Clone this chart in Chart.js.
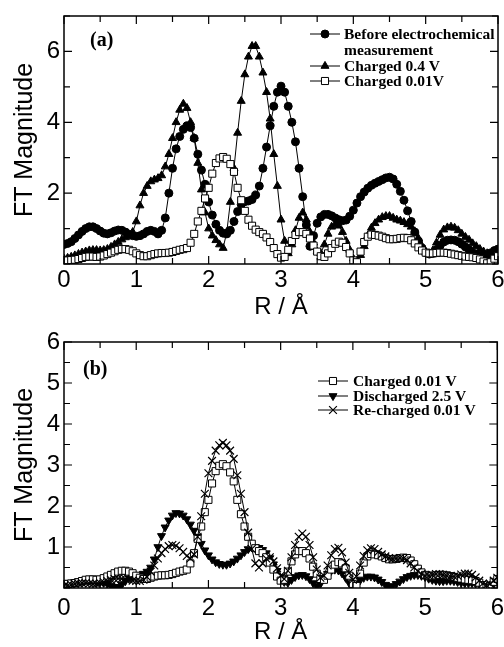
<!DOCTYPE html>
<html>
<head>
<meta charset="utf-8">
<script src="https://cdn.jsdelivr.net/npm/chart.js@4.4.1/dist/chart.umd.min.js"></script>
<style>
  body { margin: 0; background: #fff; width: 504px; height: 647px; overflow: hidden; }
  canvas { position: absolute; left: 0; }
  #chartA { top: 0; }
  #chartB { top: 322px; }
</style>
</head>
<body>
<canvas id="chartA" width="504" height="322"></canvas>
<canvas id="chartB" width="504" height="325"></canvas>
<script>
// R grid (Å), step 0.05
const R = [
  0, 0.05, 0.1, 0.15, 0.2, 0.25, 0.3, 0.35, 0.4, 0.45,
  0.5, 0.55, 0.6, 0.65, 0.7, 0.75, 0.8, 0.85, 0.9, 0.95,
  1, 1.05, 1.1, 1.15, 1.2, 1.25, 1.3, 1.35, 1.4, 1.45,
  1.5, 1.55, 1.6, 1.65, 1.7, 1.75, 1.8, 1.85, 1.9, 1.95,
  2, 2.05, 2.1, 2.15, 2.2, 2.25, 2.3, 2.35, 2.4, 2.45,
  2.5, 2.55, 2.6, 2.65, 2.7, 2.75, 2.8, 2.85, 2.9, 2.95,
  3, 3.05, 3.1, 3.15, 3.2, 3.25, 3.3, 3.35, 3.4, 3.45,
  3.5, 3.55, 3.6, 3.65, 3.7, 3.75, 3.8, 3.85, 3.9, 3.95,
  4, 4.05, 4.1, 4.15, 4.2, 4.25, 4.3, 4.35, 4.4, 4.45,
  4.5, 4.55, 4.6, 4.65, 4.7, 4.75, 4.8, 4.85, 4.9, 4.95,
  5, 5.05, 5.1, 5.15, 5.2, 5.25, 5.3, 5.35, 5.4, 5.45,
  5.5, 5.55, 5.6, 5.65, 5.7, 5.75, 5.8, 5.85, 5.9, 5.95,
  6
];

// panel (a)
const beforeMeas = [
  0.55, 0.58, 0.63, 0.72, 0.82, 0.92, 1.00, 1.05, 1.05, 1.00,
  0.93, 0.87, 0.85, 0.88, 0.93, 0.96, 0.95, 0.90, 0.84, 0.80,
  0.78, 0.80, 0.85, 0.92, 0.95, 0.92, 0.85, 0.95, 1.30, 2.00,
  2.70, 3.25, 3.60, 3.80, 3.90, 3.85, 3.55, 3.10, 2.65, 2.25,
  1.75, 1.38, 1.12, 0.95, 0.87, 0.85, 0.95, 1.20, 1.48, 1.68,
  1.76, 1.78, 1.82, 1.95, 2.20, 2.70, 3.30, 3.90, 4.45, 4.85,
  5.02, 4.85, 4.45, 4.00, 3.45, 2.70, 1.90, 1.10, 0.50, 0.80,
  1.15, 1.33, 1.40, 1.40, 1.36, 1.30, 1.25, 1.22, 1.24, 1.35,
  1.52, 1.72, 1.90, 2.03, 2.14, 2.22, 2.28, 2.33, 2.38, 2.43,
  2.45, 2.40, 2.25, 2.05, 1.80, 1.50, 1.20, 0.90, 0.65, 0.45,
  0.32, 0.28, 0.30, 0.40, 0.52, 0.62, 0.67, 0.68, 0.67, 0.63,
  0.56, 0.48, 0.40, 0.32, 0.26, 0.23, 0.23, 0.26, 0.31, 0.38,
  0.42
];
const charged04 = [
  0.15, 0.17, 0.20, 0.24, 0.28, 0.32, 0.35, 0.38, 0.39, 0.39,
  0.38, 0.39, 0.42, 0.48, 0.55, 0.62, 0.69, 0.75, 0.80, 0.90,
  1.20, 1.65, 2.00, 2.20, 2.33, 2.38, 2.42, 2.50, 2.75, 3.10,
  3.55, 4.00, 4.35, 4.52, 4.40, 4.00, 3.55, 2.85, 2.10, 1.45,
  1.00, 0.80, 0.67, 0.55, 0.45, 0.90, 1.75, 2.70, 3.70, 4.60,
  5.35, 5.85, 6.15, 6.15, 5.85, 5.40, 4.85, 4.10, 3.10, 2.20,
  1.25, 0.65, 0.30, 0.55, 0.95, 1.30, 1.45, 1.25, 0.90, 0.60,
  0.35, 0.30, 0.55, 0.85, 1.05, 1.12, 1.08, 0.90, 0.65, 0.40,
  0.15, 0.08, 0.25, 0.50, 0.80, 1.02, 1.15, 1.25, 1.32, 1.35,
  1.35, 1.30, 1.25, 1.22, 1.18, 1.12, 1.05, 0.92, 0.72, 0.50,
  0.35, 0.30, 0.38, 0.60, 0.82, 0.97, 1.03, 1.05, 1.02, 0.95,
  0.85, 0.76, 0.68, 0.58, 0.50, 0.42, 0.35, 0.30, 0.28, 0.30,
  0.32
];
// same sample shown in both panels
const charged001 = [
  0.10, 0.10, 0.11, 0.12, 0.14, 0.17, 0.20, 0.21, 0.21, 0.20,
  0.21, 0.24, 0.28, 0.32, 0.36, 0.40, 0.42, 0.42, 0.40, 0.36,
  0.30, 0.25, 0.22, 0.22, 0.25, 0.28, 0.30, 0.31, 0.31, 0.32,
  0.34, 0.37, 0.40, 0.42, 0.45, 0.60, 0.85, 1.20, 1.50, 1.85,
  2.15, 2.55, 2.85, 2.98, 3.02, 2.97, 2.82, 2.60, 2.15, 1.80,
  1.50, 1.25, 1.08, 0.97, 0.90, 0.85, 0.75, 0.62, 0.45, 0.28,
  0.18, 0.20, 0.40, 0.65, 0.82, 0.90, 0.90, 0.85, 0.72, 0.52,
  0.35, 0.22, 0.20, 0.30, 0.45, 0.57, 0.63, 0.60, 0.48, 0.30,
  0.10, 0.05, 0.35, 0.62, 0.77, 0.83, 0.82, 0.80, 0.77, 0.73,
  0.70, 0.70, 0.71, 0.73, 0.74, 0.73, 0.67, 0.58, 0.47, 0.38,
  0.32, 0.30, 0.30, 0.31, 0.32, 0.32, 0.31, 0.29, 0.27, 0.25,
  0.23, 0.21, 0.20, 0.19, 0.17, 0.13, 0.07, 0.02, 0.05, 0.15,
  0.22
];

// panel (b)
const discharged25 = [
  0.08, 0.10, 0.13, 0.15, 0.17, 0.18, 0.19, 0.18, 0.17, 0.16,
  0.15, 0.13, 0.10, 0.06, 0.03, 0.02, 0.08, 0.17, 0.24, 0.28,
  0.30, 0.32, 0.35, 0.40, 0.50, 0.70, 1.00, 1.27, 1.48, 1.65,
  1.77, 1.83, 1.82, 1.77, 1.68, 1.55, 1.40, 1.25, 1.08, 0.92,
  0.80, 0.70, 0.63, 0.59, 0.57, 0.57, 0.60, 0.65, 0.72, 0.80,
  0.88, 0.95, 0.99, 1.00, 0.98, 0.93, 0.85, 0.73, 0.58, 0.42,
  0.27, 0.15, 0.13, 0.20, 0.27, 0.31, 0.32, 0.29, 0.22, 0.12,
  0.04, 0.10, 0.24, 0.35, 0.42, 0.45, 0.43, 0.36, 0.25, 0.12,
  0.03, 0.10, 0.19, 0.25, 0.28, 0.28, 0.26, 0.21, 0.15, 0.08,
  0.03, 0.05, 0.10, 0.16, 0.22, 0.27, 0.30, 0.32, 0.32, 0.30,
  0.27, 0.23, 0.20, 0.18, 0.17, 0.17, 0.18, 0.18, 0.17, 0.15,
  0.13, 0.12, 0.12, 0.12, 0.11, 0.10, 0.08, 0.06, 0.06, 0.10,
  0.15
];
const recharged001 = [
  0.05, 0.06, 0.08, 0.10, 0.11, 0.12, 0.12, 0.11, 0.10, 0.10,
  0.12, 0.14, 0.17, 0.20, 0.22, 0.23, 0.23, 0.22, 0.20, 0.18,
  0.17, 0.17, 0.20, 0.27, 0.40, 0.55, 0.72, 0.85, 0.95, 1.02,
  1.05, 1.03, 0.97, 0.88, 0.78, 0.72, 0.82, 1.25, 1.75, 2.30,
  2.80, 3.10, 3.35, 3.48, 3.54, 3.48, 3.35, 3.15, 2.75, 2.30,
  1.85, 1.35, 0.95, 0.60, 0.50, 0.60, 0.72, 0.75, 0.65, 0.48,
  0.30, 0.22, 0.42, 0.75, 1.05, 1.25, 1.33, 1.25, 1.05, 0.75,
  0.45, 0.25, 0.30, 0.55, 0.80, 0.95, 0.98, 0.87, 0.62, 0.37,
  0.20, 0.28, 0.55, 0.78, 0.92, 0.97, 0.95, 0.88, 0.82, 0.77,
  0.73, 0.71, 0.72, 0.73, 0.72, 0.68, 0.60, 0.50, 0.41, 0.34,
  0.30, 0.30, 0.32, 0.34, 0.34, 0.32, 0.30, 0.28, 0.28, 0.30,
  0.33, 0.35, 0.35, 0.32, 0.26, 0.18, 0.11, 0.07, 0.10, 0.18,
  0.25
];

const SANS = '"Liberation Sans", Arial, sans-serif';
const SERIF = '"Liberation Serif", "Times New Roman", serif';
Chart.defaults.font.family = SANS;
Chart.defaults.color = '#000';

function series(label, values, style, extra) {
  return Object.assign({
    label,
    data: R.map((r, i) => ({ x: r, y: values[i] })),
    borderColor: '#000',
    borderWidth: 1,
    pointStyle: style,
    pointRadius: 4,
    pointBorderColor: '#000',
    pointBackgroundColor: '#000',
    pointBorderWidth: 1,
    pointHoverRadius: 0,
    tension: 0
  }, extra);
}

// frame box and inward ticks on all four sides
const frameTicks = {
  id: 'frameTicks',
  afterDraw(chart) {
    const { ctx, chartArea: a, scales: { x, y } } = chart;
    ctx.save();
    ctx.strokeStyle = '#000';
    ctx.lineWidth = 1.5;
    ctx.strokeRect(a.left, a.top, a.right - a.left, a.bottom - a.top);
    ctx.lineWidth = 1.2;
    ctx.beginPath();
    x.ticks.forEach(t => {
      const px = x.getPixelForValue(t.value);
      const len = t.label !== '' ? 8 : 6;
      ctx.moveTo(px, a.bottom); ctx.lineTo(px, a.bottom - len);
      ctx.moveTo(px, a.top); ctx.lineTo(px, a.top + len);
    });
    y.ticks.forEach(t => {
      const py = y.getPixelForValue(t.value);
      const len = t.label !== '' ? 8 : 6;
      ctx.moveTo(a.left, py); ctx.lineTo(a.left + len, py);
      ctx.moveTo(a.right, py); ctx.lineTo(a.right - len, py);
    });
    ctx.stroke();
    ctx.restore();
  }
};

// panel tag and line+marker legend
const panelLegend = {
  id: 'panelLegend',
  afterDraw(chart, args, opts) {
    const ctx = chart.ctx;
    ctx.save();
    ctx.fillStyle = '#000';
    ctx.textBaseline = 'middle';
    ctx.font = 'bold 20px ' + SERIF;
    ctx.fillText(opts.tag, opts.tagX, opts.tagY);
    ctx.font = 'bold 15.5px ' + SERIF;
    opts.rows.forEach(row => {
      const ds = chart.data.datasets[row.ds];
      ctx.strokeStyle = '#000';
      ctx.lineWidth = 1;
      ctx.beginPath();
      ctx.moveTo(opts.x0, row.y);
      ctx.lineTo(opts.x1, row.y);
      ctx.stroke();
      ctx.fillStyle = ds.pointBackgroundColor;
      ctx.strokeStyle = ds.pointBorderColor;
      ctx.lineWidth = ds.pointBorderWidth;
      Chart.helpers.drawPoint(ctx, {
        pointStyle: ds.pointStyle,
        rotation: ds.pointRotation || 0,
        radius: ds.pointRadius,
        borderWidth: ds.pointBorderWidth
      }, (opts.x0 + opts.x1) / 2, row.y);
      ctx.fillStyle = '#000';
      ds.label.split('\n').forEach((line, k) => {
        ctx.fillText(line, opts.textX, row.y + 1 + k * opts.lineGap);
      });
    });
    ctx.restore();
  }
};

function makeChart(id, datasets, cfg) {
  return new Chart(document.getElementById(id), {
    type: 'line',
    data: { datasets },
    options: {
      responsive: false,
      animation: false,
      events: [],
      layout: { padding: { left: 0, right: 5, top: cfg.top, bottom: 0 } },
      plugins: {
        legend: { display: false },
        tooltip: { enabled: false },
        panelLegend: cfg.legend
      },
      scales: {
        x: {
          type: 'linear', min: 0, max: 6,
          grid: { display: false, drawTicks: false },
          border: { display: false },
          ticks: {
            stepSize: 0.5, autoSkip: false, maxRotation: 0, padding: cfg.xPad,
            font: { size: 24 }, color: '#000',
            callback: v => Number.isInteger(v) ? String(v) : ''
          },
          title: { display: true, text: 'R / Å', font: { size: 24 }, color: '#000', padding: { top: 0, bottom: 0 } },
          afterFit: s => { s.height = cfg.xH; s.paddingLeft = 0; s.paddingRight = 0; }
        },
        y: {
          type: 'linear', min: 0, max: cfg.yMax,
          grid: { display: false, drawTicks: false },
          border: { display: false },
          ticks: {
            stepSize: cfg.yStep, autoSkip: false, padding: 4,
            font: { size: 24 }, color: '#000',
            callback: cfg.yLabel
          },
          title: { display: true, text: 'FT Magnitude', font: { size: 25 }, color: '#000', padding: { top: 10, bottom: 0 } },
          afterFit: s => { s.width = 64; s.paddingTop = 0; s.paddingBottom = 0; }
        }
      }
    },
    plugins: [frameTicks, panelLegend]
  });
}

const namesA = ['Before electrochemical\nmeasurement', 'Charged 0.4 V', 'Charged 0.01V'];
const namesB = ['Charged 0.01 V', 'Discharged 2.5 V', 'Re-charged 0.01 V'];

makeChart('chartA', [
  series(namesA[0], beforeMeas, 'circle', { order: 1 }),
  series(namesA[1], charged04, 'triangle', { pointRadius: 4.6, order: 2 }),
  series(namesA[2], charged001, 'rect', { pointRadius: 5, pointBackgroundColor: '#fff', order: 0 })
], {
  top: 16, xH: 58, xPad: 2, yMax: 7, yStep: 1,
  yLabel: v => (v > 0 && v % 2 === 0) ? String(v) : '',
  legend: {
    tag: '(a)', tagX: 90, tagY: 41,
    x0: 310, x1: 340, textX: 344, lineGap: 16,
    rows: [{ ds: 0, y: 34 }, { ds: 1, y: 66 }, { ds: 2, y: 81 }]
  }
});

makeChart('chartB', [
  series(namesB[0], charged001, 'rect', { pointRadius: 5, pointBackgroundColor: '#fff', order: 1 }),
  series(namesB[1], discharged25, 'triangle', { pointRadius: 4.6, pointRotation: 180, rotation: 180, order: 2 }),
  series(namesB[2], recharged001, 'crossRot', { pointRadius: 5.5, pointBorderWidth: 1.2, order: 0 })
], {
  top: 20, xH: 59, xPad: 6, yMax: 6, yStep: 0.5,
  yLabel: v => (v > 0 && Number.isInteger(v)) ? String(v) : '',
  legend: {
    tag: '(b)', tagX: 83, tagY: 48,
    x0: 318, x1: 348, textX: 353, lineGap: 16,
    rows: [{ ds: 0, y: 59 }, { ds: 1, y: 74 }, { ds: 2, y: 88 }]
  }
});
</script>
</body>
</html>
